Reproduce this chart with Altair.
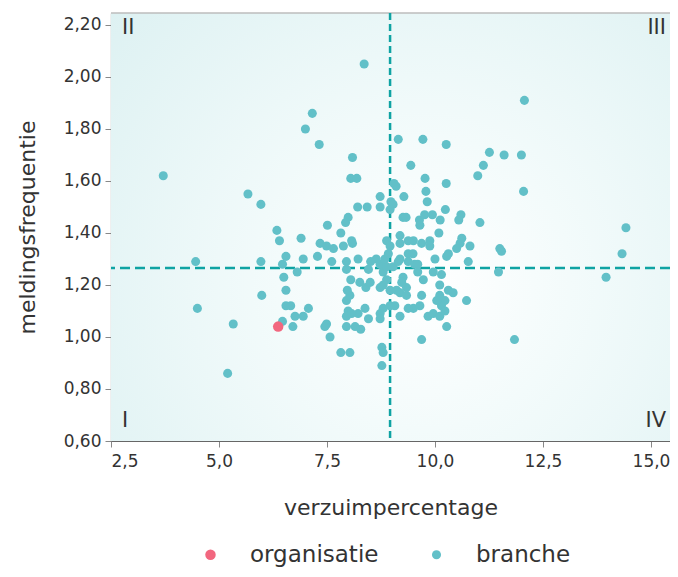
import altair as alt
import pandas as pd

# ---- data ----
branche_x = [8.36, 3.71, 12.07, 7.16, 7.00, 7.32, 8.09, 8.05, 8.19, 5.67, 5.97, 8.21, 8.43, 8.73, 9.05, 9.10, 8.98, 9.03, 8.73, 8.96,
             9.15, 9.72, 10.26, 11.26, 11.60, 12.00, 9.44, 11.12, 10.99, 9.77, 10.26, 9.79, 12.05, 9.28, 9.82, 9.26, 9.33, 10.24, 10.60, 10.55,
             11.04, 9.64, 9.76, 9.94, 10.12, 14.42, 7.99, 7.93, 7.51, 6.34, 9.65, 10.09,
             6.40, 6.90, 7.82, 8.07, 8.09, 7.34, 7.49, 7.65, 7.88, 8.88, 8.96, 9.19, 9.19, 9.38, 9.50, 9.69, 9.88, 9.88,
             10.62, 10.58, 10.81, 11.50, 14.33, 7.28, 7.61, 7.95, 7.95, 8.22, 8.51, 8.64, 4.46, 5.97, 6.55, 6.95, 6.47, 6.81,
             6.50, 9.38, 10.27, 10.31, 10.50, 10.00, 10.77, 11.54, 11.47, 9.19, 9.38, 9.53, 9.49, 8.73, 8.80, 9.03, 8.80, 8.88,
             8.84, 9.60, 9.60, 8.92, 9.15, 8.46,
             9.96, 10.15, 9.73, 9.26, 9.23, 9.34, 10.11, 10.31, 10.42, 8.88, 8.80, 8.96, 9.11, 9.19, 9.69, 10.11, 10.23, 10.15,
             10.04, 10.73, 8.80, 8.96, 8.73, 9.50, 9.65, 9.34, 9.84, 9.96, 10.11, 10.23, 9.19, 10.27, 8.73, 9.69, 11.84, 8.77,
             8.80, 8.77, 8.05, 8.26, 8.40, 8.50, 8.73, 7.99, 7.95, 8.03, 7.97, 7.95, 8.22, 8.38, 8.46, 7.95, 8.15, 8.28,
             7.49, 7.45, 7.57, 7.82, 8.03, 6.55, 5.99, 6.55, 6.66, 7.07, 6.76, 6.95, 6.47, 6.71, 5.33, 4.50, 5.20, 13.96,
             8.07, 9.07, 9.38]
branche_y = [2.05, 1.62, 1.91, 1.86, 1.80, 1.74, 1.69, 1.61, 1.61, 1.55, 1.51, 1.50, 1.50, 1.54, 1.59, 1.58, 1.52, 1.51, 1.50, 1.49,
             1.76, 1.76, 1.74, 1.71, 1.70, 1.70, 1.66, 1.66, 1.62, 1.61, 1.59, 1.56, 1.56, 1.54, 1.52, 1.46, 1.46, 1.49, 1.47, 1.45,
             1.44, 1.45, 1.47, 1.47, 1.45, 1.42, 1.46, 1.44, 1.43, 1.41, 1.43, 1.40,
             1.37, 1.38, 1.40, 1.37, 1.36, 1.36, 1.35, 1.34, 1.35, 1.37, 1.35, 1.39, 1.36, 1.37, 1.37, 1.36, 1.37, 1.35,
             1.38, 1.36, 1.35, 1.34, 1.32, 1.31, 1.29, 1.29, 1.26, 1.30, 1.29, 1.30, 1.29, 1.29, 1.31, 1.30, 1.28, 1.25,
             1.23, 1.32, 1.31, 1.32, 1.34, 1.30, 1.29, 1.33, 1.25, 1.30, 1.29, 1.28, 1.32, 1.28, 1.27, 1.27, 1.25, 1.27,
             1.30, 1.28, 1.25, 1.32, 1.29, 1.26,
             1.25, 1.24, 1.22, 1.23, 1.21, 1.19, 1.20, 1.18, 1.17, 1.22, 1.20, 1.18, 1.18, 1.17, 1.16, 1.16, 1.14, 1.12,
             1.14, 1.14, 1.11, 1.12, 1.09, 1.11, 1.12, 1.16, 1.08, 1.09, 1.08, 1.10, 1.08, 1.04, 1.07, 0.99, 0.99, 0.96,
             0.94, 0.89, 1.22, 1.21, 1.19, 1.21, 1.19, 1.10, 1.14, 1.16, 1.18, 1.08, 1.09, 1.11, 1.07, 1.04, 1.04, 1.03,
             1.05, 1.04, 1.00, 0.94, 0.94, 1.18, 1.16, 1.12, 1.12, 1.11, 1.08, 1.08, 1.06, 1.04, 1.05, 1.11, 0.86, 1.23,
             1.09, 1.12, 1.11]
org_x = [6.37]
org_y = [1.04]

groups = ["organisatie", "branche"]
x_ticks = [2.5, 5.0, 7.5, 10.0, 12.5, 15.0]
y_ticks = [0.6, 0.8, 1.0, 1.2, 1.4, 1.6, 1.8, 2.0, 2.2]
mean_x = [8.96]
mean_y = [1.265]
x_domain = [2.5, 15.44]
y_domain = [0.6, 2.246]

W, H = 559, 428
FONT = "DejaVu Sans"
TXT = "#333333"

pts = pd.DataFrame({
    "x": branche_x + org_x,
    "y": branche_y + org_y,
    "groep": ["branche"] * len(branche_x) + ["organisatie"] * len(org_x),
})

xs = alt.Scale(domain=x_domain, nice=False, zero=False)
ys = alt.Scale(domain=y_domain, nice=False, zero=False)

one = pd.DataFrame({"a": [0]})

bg = alt.Chart(one).mark_rect(
    fill=alt.RadialGradient(
        gradient="radial",
        stops=[alt.GradientStop(color="#ffffff", offset=0),
               alt.GradientStop(color="#f3fbfb", offset=0.35),
               alt.GradientStop(color="#ddf1f2", offset=1)],
        x1=0.56, y1=0.6, r1=0, x2=0.56, y2=0.6, r2=0.75),
).encode(x=alt.value(0), x2=alt.value(W), y=alt.value(0), y2=alt.value(H))

top_border = alt.Chart(one).mark_rule(color="#bdbdbd", strokeWidth=1.5).encode(
    x=alt.value(0), x2=alt.value(W), y=alt.value(0))

points = alt.Chart(pts).mark_circle(opacity=1).encode(
    x=alt.X("x:Q", scale=xs, axis=alt.Axis(
        values=x_ticks, title="verzuimpercentage", grid=False,
        labelExpr="replace(format(datum.value, '.1f'), '.', ',')",
        domainColor="#666666", domainWidth=1.2, tickColor="#888888", tickSize=6,
        labelFont=FONT, labelFontSize=17, labelColor=TXT, labelPadding=6,
        titleFont=FONT, titleFontSize=22, titleFontWeight="normal", titleColor=TXT, titlePadding=28)),
    y=alt.Y("y:Q", scale=ys, axis=alt.Axis(
        values=y_ticks, title="meldingsfrequentie", grid=False,
        labelExpr="replace(format(datum.value, '.2f'), '.', ',')",
        domainColor="#666666", domainWidth=1.2, tickColor="#888888", tickSize=6,
        labelFont=FONT, labelFontSize=17, labelColor=TXT, labelPadding=4,
        titleFont=FONT, titleFontSize=22, titleFontWeight="normal", titleColor=TXT, titlePadding=24)),
    color=alt.Color("groep:N", scale=alt.Scale(domain=groups, range=["#f2677f", "#62c0c8"]),
                    legend=alt.Legend(title=None, orient="none", direction="horizontal",
                                      legendX=88, legendY=530, symbolType="circle", symbolSize=75,
                                      labelFont=FONT, labelFontSize=23, labelColor=TXT,
                                      labelOffset=28, columnPadding=46, padding=0,
                                      symbolStrokeWidth=0)),
    size=alt.Size("groep:N", scale=alt.Scale(domain=groups, range=[110, 82]), legend=None),
    order=alt.Order("groep:N", sort="ascending"),
)

vline = alt.Chart(pd.DataFrame({"x": mean_x})).mark_rule(
    color="#0fa3a3", strokeWidth=2.5, strokeDash=[7, 4]).encode(x=alt.X("x:Q", scale=xs))
hline = alt.Chart(pd.DataFrame({"y": mean_y})).mark_rule(
    color="#0fa3a3", strokeWidth=2.5, strokeDash=[10, 5]).encode(y=alt.Y("y:Q", scale=ys))

def qlabel(t, px, py, align):
    return alt.Chart(one).mark_text(font=FONT, fontSize=21, color=TXT, align=align,
                                    baseline="middle").encode(
        x=alt.value(px), y=alt.value(py), text=alt.value(t))

q = (qlabel("II", 11, 15, "left") + qlabel("III", W - 4, 15, "right")
     + qlabel("I", 11, 408, "left") + qlabel("IV", W - 4, 408, "right"))

chart = alt.layer(bg, top_border, vline, hline, points, q).properties(
    width=W, height=H,
    autosize=alt.AutoSizeParams(type="none"),
    padding={"left": 103, "top": 5, "right": 0, "bottom": 128},
).configure_view(stroke=None)

chart.save("out.html", embed_options={"renderer": "svg", "actions": False})
